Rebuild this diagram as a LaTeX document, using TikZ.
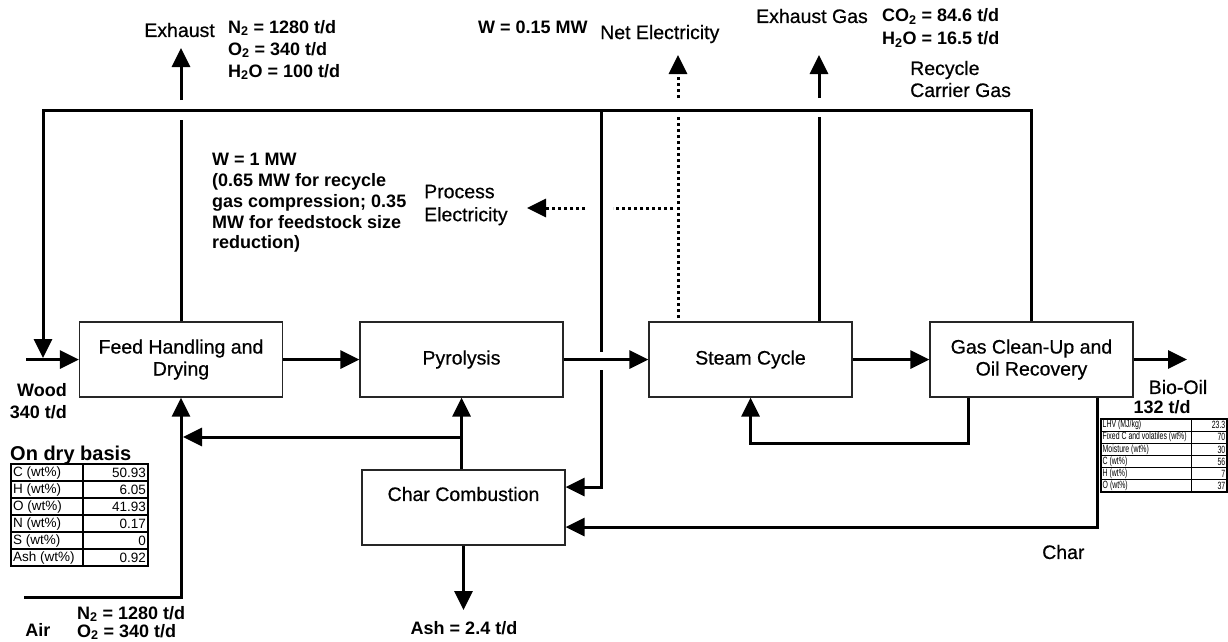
\documentclass[tikz,border=0pt]{standalone}
\usepackage{fontspec}
\setmainfont{Liberation Sans}
\newfontfamily\narrowfont[FakeStretch=0.66]{Liberation Sans}
\newfontfamily\medfont[FakeBold=0.6]{Liberation Sans}
\usetikzlibrary{arrows.meta}

\begin{document}
\begin{tikzpicture}[x=1pt,y=-1pt,
  every node/.style={inner sep=0pt},
  box/.style={draw=black!85,line width=1.2pt,minimum width=203pt,minimum height=75pt,align=center,font=\medfont\fontsize{19.5}{22}\selectfont},
  flow/.style={line width=3pt},
  elec/.style={line width=3pt,dash pattern=on 3pt off 3pt},
  lbl/.style={font=\medfont\fontsize{19.5}{22.5}\selectfont,align=left},
  qty/.style={font=\fontsize{18}{22}\selectfont\bfseries,align=left},
  cell/.style={font=\fontsize{13.5}{15}\selectfont},
  tinycell/.style={font=\narrowfont\fontsize{10.5}{12}\selectfont},
  >={Triangle[length=19pt,width=18pt]}
]
  \useasboundingbox (0,0) rectangle (1228,641);

  % process units
  \node[box] (feed)  at (181,359.5)    {Feed Handling and\\Drying};
  \node[box] (pyro)  at (461.5,359.5)  {Pyrolysis};
  \node[box] (steam) at (750.5,359.5)  {Steam Cycle};
  \node[box] (gas)   at (1031.5,359.5) {Gas Clean-Up and\\Oil Recovery};
  \node[box] (cc)    at (463.5,507.5)  {};
  \node[font=\medfont\fontsize{19.5}{22}\selectfont] (cctxt) at (463.5,494) {Char Combustion};

  % points on the streams
  \coordinate (rtl)    at (43,110);
  \coordinate (rtr)    at (1031.5,110);
  \coordinate (rdown)  at (43,358);
  \coordinate (rmid)   at (601,110);
  \coordinate (rgapA)  at (601,352);
  \coordinate (rgapB)  at (601,370);
  \coordinate (rcc)    at (601,487);
  \coordinate (woodin) at (26,359.5);
  \coordinate (oilout) at (1187,359.5);
  \coordinate (fexA)   at (181,120);
  \coordinate (fexB)   at (181,100);
  \coordinate (fexT)   at (181,48);
  \coordinate (sexA)   at (819,117);
  \coordinate (sexB)   at (819,98);
  \coordinate (sexT)   at (819,55);
  \coordinate (nelS)   at (678,318);
  \coordinate (nelA)   at (678,116);
  \coordinate (nelB)   at (678,98);
  \coordinate (nelT)   at (678,55);
  \coordinate (pelS)   at (673,208);
  \coordinate (pelA)   at (613,208);
  \coordinate (pelB)   at (585,208);
  \coordinate (pelT)   at (527,208);
  \coordinate (ret1)   at (968,443);
  \coordinate (char1)  at (1097,527);
  \coordinate (hot)    at (461.5,437);
  \coordinate (hotend) at (183,437);
  \coordinate (airin)  at (24,597);
  \coordinate (airbend) at (181,597);
  \coordinate (ashout) at (463.5,610);

  % main line
  \draw[flow,->] (woodin) -- (feed.west);
  \draw[flow,->] (feed.east) -- (pyro.west);
  \draw[flow,->] (pyro.east) -- (steam.west);
  \draw[flow,->] (steam.east) -- (gas.west);
  \draw[flow,->] (gas.east) -- (oilout);

  % recycle carrier gas
  \draw[flow,->] (gas.north) -- (rtr) -- (rtl) -- (rdown);
  \draw[flow] (rmid) -- (rgapA);
  \draw[flow,->] (rgapB) -- (rcc) -- (cc.east |- rcc);

  % exhausts
  \draw[flow] (feed.north) -- (fexA);
  \draw[flow,->] (fexB) -- (fexT);
  \draw[flow] (steam.north -| sexA) -- (sexA);
  \draw[flow,->] (sexB) -- (sexT);

  % electricity
  \draw[elec] (nelS) -- (nelA);
  \draw[elec,->] (nelB) -- (nelT);
  \draw[elec] (pelS) -- (pelA);
  \draw[elec,->] (pelB) -- (pelT);

  % char and heat
  \draw[flow,->] (gas.south -| ret1) -- (ret1) -- (steam.south |- ret1) -- (steam.south);
  \draw[flow,->] (gas.south -| char1) -- (char1) -- (cc.east |- char1);
  \draw[flow,->] (cc.north -| pyro.south) -- (pyro.south);
  \draw[flow,->] (hot) -- (hotend);
  \draw[flow,->] (airin) -- (airbend) -- (feed.south);
  \draw[flow,->] (cc.south) -- (ashout);

  % labels
  \node[lbl,anchor=east] (exhlbl) at (215,30) {Exhaust};
  \node[qty,anchor=west] (exhcomp) at (228,50) {N\textsubscript{2} = 1280 t/d\\O\textsubscript{2} = 340 t/d\\H\textsubscript{2}O = 100 t/d};
  \node[qty,anchor=west] (wnet) at (478,27) {W = 0.15 MW};
  \node[lbl,anchor=west] (netlbl) at (600,34) {Net Electricity};
  \node[lbl,anchor=east] (exglbl) at (868,16) {Exhaust Gas};
  \node[qty,anchor=west,font=\fontsize{18}{23}\selectfont\bfseries] (exgcomp) at (882,28) {CO\textsubscript{2} = 84.6 t/d\\H\textsubscript{2}O = 16.5 t/d};
  \node[lbl,anchor=west,font=\medfont\fontsize{19.5}{22}\selectfont] (rcglbl) at (910,79) {Recycle\\Carrier Gas};
  \node[qty,anchor=west,font=\fontsize{18}{20.7}\selectfont\bfseries] (wproc) at (212,203) {W = 1 MW\\(0.65 MW for recycle\\gas compression; 0.35\\MW for feedstock size\\reduction)};
  \node[lbl,anchor=west,font=\medfont\fontsize{19.5}{23}\selectfont] (plbl) at (424,205) {Process\\Electricity};
  \node[qty,anchor=east,align=right] (woodlbl) at (67,401) {Wood\\340 t/d};
  \node[lbl] (oillbl) at (1178,387) {Bio-Oil};
  \node[qty] (oilamt) at (1162,407) {132 t/d};
  \node[qty,anchor=west,font=\fontsize{20}{22}\selectfont\bfseries] (drylbl) at (10,455) {On dry basis};
  \node[lbl,anchor=west] (charlbl) at (1042,552) {Char};
  \node[qty] (ashlbl) at (464,628) {Ash = 2.4 t/d};
  \node[qty] (airlbl) at (38,630) {Air};
  \node[qty,anchor=west,font=\fontsize{18}{18}\selectfont\bfseries] (aircomp) at (77,623) {N\textsubscript{2} = 1280 t/d\\O\textsubscript{2} = 340 t/d};

  % wood analysis
  \draw[line width=2pt] (11,464) rectangle (148,566);
  \draw[line width=2pt] (83,464) -- (83,566);
  \foreach \k in {1,...,5} \draw[line width=2pt] (11,{464+17*\k}) -- (148,{464+17*\k});
  \foreach \lab/\val [count=\k] in {C (wt\%)/50.93,H (wt\%)/6.05,O (wt\%)/41.93,N (wt\%)/0.17,S (wt\%)/0,Ash (wt\%)/0.92} {
    \node[cell,anchor=west] (dryname\k) at (13,{455.5+17*\k}) {\lab};
    \node[cell,anchor=east] (dryval\k) at (146,{455.5+17*\k}) {\val};
  }

  % bio-oil analysis
  \draw[line width=1.2pt] (1101,419) rectangle (1227,492);
  \draw[line width=1pt] (1191,419) -- (1191,492);
  \foreach \k in {1,...,5} \draw[line width=1pt] (1101,{419+12.17*\k}) -- (1227,{419+12.17*\k});
  \foreach \lab/\val [count=\k] in {{LHV (MJ/kg)}/23.3,Fixed C and volatiles (wt\%)/70,Moisture (wt\%)/30,C (wt\%)/56,H (wt\%)/7,O (wt\%)/37} {
    \node[tinycell,anchor=west] (oilname\k) at (1102.5,{412.9+12.17*\k}) {\lab};
    \node[tinycell,anchor=east] (oilval\k) at (1225.5,{412.9+12.17*\k}) {\val};
  }
\end{tikzpicture}
\end{document}
